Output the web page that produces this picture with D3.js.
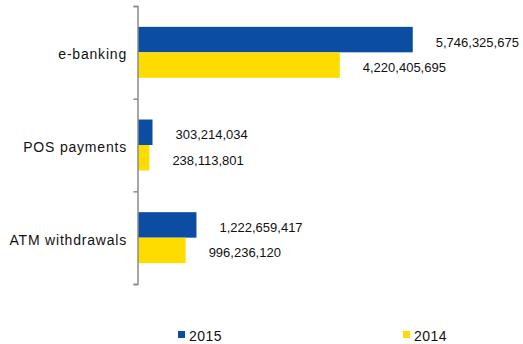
<!DOCTYPE html>
<html>
<head>
<meta charset="utf-8">
<script src="https://cdn.jsdelivr.net/npm/d3@7/dist/d3.min.js"></script>
<style>
  html, body { margin: 0; padding: 0; background: #fff; }
  svg { display: block; font-family: "Liberation Sans", Arial, sans-serif; }
</style>
</head>
<body>
<svg id="chart" width="523" height="344"></svg>
<script>
// Card transactions by channel
const categories = ["e-banking", "POS payments", "ATM withdrawals"];
const seriesNames = ["2015", "2014"];
const values2015 = [5746325675, 303214034, 1222659417];
const values2014 = [4220405695, 238113801, 996236120];
const colors = ["#0B4DA2", "#FFDC00"];

const rows = categories.map((c, i) => ({
  category: c,
  values: [
    { key: seriesNames[0], value: values2015[i] },
    { key: seriesNames[1], value: values2014[i] }
  ]
}));

const svg = d3.select("#chart");

const axisX = 137.5;
const x = d3.scaleLinear().domain([0, 7e9]).range([axisX + 0.5, 472.7]);
const y = d3.scaleBand().domain(categories).range([6, 284]).paddingInner(0.45).paddingOuter(0.225);
const ySub = d3.scaleBand().domain(seriesNames).range([0, y.bandwidth()]);
const color = d3.scaleOrdinal().domain(seriesNames).range(colors);
const fmt = d3.format(",");

// Bars
const groups = svg.append("g").selectAll("g")
  .data(rows).join("g")
  .attr("transform", d => `translate(0,${y(d.category)})`);

groups.selectAll("rect")
  .data(d => d.values).join("rect")
  .attr("x", x(0))
  .attr("y", d => ySub(d.key))
  .attr("width", d => x(d.value) - x(0))
  .attr("height", ySub.bandwidth())
  .attr("fill", d => color(d.key));

// Value labels at the end of each bar
groups.selectAll("text")
  .data(d => d.values).join("text")
  .attr("x", d => x(d.value) + 23)
  .attr("y", d => ySub(d.key) + ySub.bandwidth() / 2 + 2.5)
  .attr("dy", "0.35em")
  .attr("font-size", 13)
  .attr("fill", "#111")
  .text(d => fmt(d.value));

// Category axis with ticks at band boundaries
const boundary = d3.scaleLinear().domain([0, categories.length]).range(y.range());
const axis = svg.append("g")
  .attr("transform", `translate(${axisX},0)`)
  .call(d3.axisLeft(boundary)
    .tickValues(d3.range(categories.length + 1))
    .tickFormat("")
    .tickSizeInner(4)
    .tickSizeOuter(4));
axis.selectAll("path, line").attr("stroke", "#8a8a8a").attr("stroke-width", 1.5);

// Category labels
svg.append("g").selectAll("text")
  .data(categories).join("text")
  .attr("x", 127)
  .attr("y", d => y(d) + y.bandwidth() / 2 + 2)
  .attr("dy", "0.35em")
  .attr("text-anchor", "end")
  .attr("font-size", 14)
  .attr("letter-spacing", 0.8)
  .attr("fill", "#111")
  .text(d => d);

// Legend along the bottom edge
const legendX = [178, 403];
const legend = svg.append("g").selectAll("g")
  .data(seriesNames).join("g")
  .attr("transform", (d, i) => `translate(${legendX[i]},331)`);
legend.append("rect")
  .attr("width", 7).attr("height", 7)
  .attr("fill", d => color(d));
legend.append("text")
  .attr("x", 11)
  .attr("y", 9.5)
  .attr("font-size", 14)
  .attr("letter-spacing", 0.5)
  .attr("fill", "#111")
  .text(d => d);
</script>
</body>
</html>
